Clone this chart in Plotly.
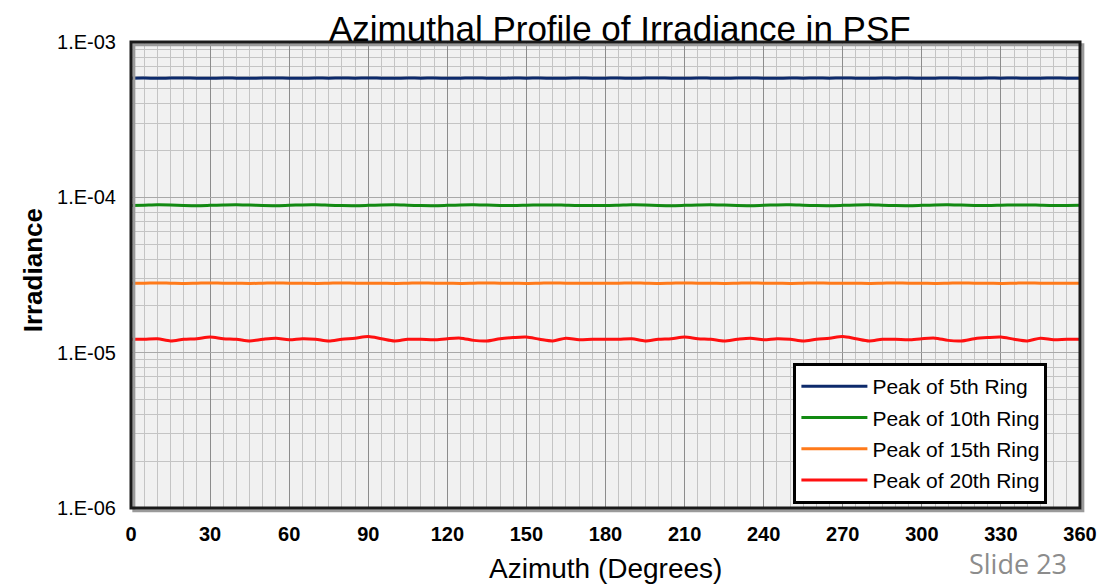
import plotly.graph_objects as go

# azimuth samples (degrees)
azimuth = list(range(0, 365, 5))

ring5 = [5.85e-4, 5.86e-4, 5.84e-4, 5.86e-4, 5.87e-4, 5.85e-4, 5.84e-4, 5.86e-4, 5.85e-4, 5.84e-4,
         5.86e-4, 5.87e-4, 5.85e-4, 5.84e-4, 5.86e-4, 5.85e-4, 5.86e-4, 5.85e-4, 5.87e-4, 5.85e-4,
         5.84e-4, 5.86e-4, 5.85e-4, 5.86e-4, 5.84e-4, 5.85e-4, 5.87e-4, 5.85e-4, 5.84e-4, 5.86e-4,
         5.85e-4, 5.86e-4, 5.84e-4, 5.85e-4, 5.86e-4, 5.85e-4, 5.85e-4, 5.86e-4, 5.84e-4, 5.86e-4,
         5.87e-4, 5.85e-4, 5.84e-4, 5.86e-4, 5.85e-4, 5.84e-4, 5.86e-4, 5.87e-4, 5.85e-4, 5.84e-4,
         5.86e-4, 5.85e-4, 5.86e-4, 5.85e-4, 5.87e-4, 5.85e-4, 5.84e-4, 5.86e-4, 5.85e-4, 5.86e-4,
         5.84e-4, 5.85e-4, 5.87e-4, 5.85e-4, 5.84e-4, 5.86e-4, 5.85e-4, 5.86e-4, 5.84e-4, 5.85e-4,
         5.86e-4, 5.85e-4, 5.85e-4]

ring10 = [8.86e-5, 8.90e-5, 8.95e-5, 8.93e-5, 8.87e-5, 8.84e-5, 8.88e-5, 8.93e-5, 8.96e-5, 8.91e-5,
          8.86e-5, 8.84e-5, 8.89e-5, 8.94e-5, 8.95e-5, 8.90e-5, 8.85e-5, 8.84e-5, 8.88e-5, 8.93e-5,
          8.95e-5, 8.90e-5, 8.85e-5, 8.83e-5, 8.88e-5, 8.94e-5, 8.96e-5, 8.91e-5, 8.86e-5, 8.85e-5,
          8.89e-5, 8.93e-5, 8.94e-5, 8.89e-5, 8.85e-5, 8.86e-5, 8.86e-5, 8.90e-5, 8.95e-5, 8.93e-5,
          8.87e-5, 8.84e-5, 8.88e-5, 8.93e-5, 8.96e-5, 8.91e-5, 8.86e-5, 8.84e-5, 8.89e-5, 8.94e-5,
          8.95e-5, 8.90e-5, 8.85e-5, 8.84e-5, 8.88e-5, 8.93e-5, 8.95e-5, 8.90e-5, 8.85e-5, 8.83e-5,
          8.88e-5, 8.94e-5, 8.96e-5, 8.91e-5, 8.86e-5, 8.85e-5, 8.89e-5, 8.93e-5, 8.94e-5, 8.89e-5,
          8.85e-5, 8.86e-5, 8.88e-5]

ring15 = [2.80e-5, 2.80e-5, 2.81e-5, 2.80e-5, 2.79e-5, 2.80e-5, 2.81e-5, 2.80e-5, 2.80e-5, 2.79e-5,
          2.80e-5, 2.81e-5, 2.80e-5, 2.80e-5, 2.79e-5, 2.80e-5, 2.81e-5, 2.80e-5, 2.80e-5, 2.80e-5,
          2.79e-5, 2.80e-5, 2.81e-5, 2.80e-5, 2.80e-5, 2.79e-5, 2.80e-5, 2.81e-5, 2.80e-5, 2.80e-5,
          2.79e-5, 2.80e-5, 2.81e-5, 2.80e-5, 2.80e-5, 2.80e-5, 2.80e-5, 2.80e-5, 2.81e-5, 2.80e-5,
          2.79e-5, 2.80e-5, 2.81e-5, 2.80e-5, 2.80e-5, 2.79e-5, 2.80e-5, 2.81e-5, 2.80e-5, 2.80e-5,
          2.79e-5, 2.80e-5, 2.81e-5, 2.80e-5, 2.80e-5, 2.80e-5, 2.79e-5, 2.80e-5, 2.81e-5, 2.80e-5,
          2.80e-5, 2.79e-5, 2.80e-5, 2.81e-5, 2.80e-5, 2.80e-5, 2.79e-5, 2.80e-5, 2.81e-5, 2.80e-5,
          2.80e-5, 2.80e-5, 2.80e-5]

ring20 = [1.22e-5, 1.22e-5, 1.23e-5, 1.19e-5, 1.22e-5, 1.23e-5, 1.26e-5, 1.23e-5, 1.22e-5, 1.19e-5,
          1.22e-5, 1.24e-5, 1.21e-5, 1.23e-5, 1.22e-5, 1.19e-5, 1.22e-5, 1.24e-5, 1.27e-5, 1.23e-5,
          1.19e-5, 1.22e-5, 1.22e-5, 1.21e-5, 1.23e-5, 1.24e-5, 1.20e-5, 1.19e-5, 1.23e-5, 1.25e-5,
          1.26e-5, 1.22e-5, 1.19e-5, 1.24e-5, 1.21e-5, 1.22e-5, 1.22e-5, 1.22e-5, 1.23e-5, 1.19e-5,
          1.22e-5, 1.23e-5, 1.26e-5, 1.23e-5, 1.22e-5, 1.19e-5, 1.22e-5, 1.24e-5, 1.21e-5, 1.23e-5,
          1.22e-5, 1.19e-5, 1.22e-5, 1.24e-5, 1.27e-5, 1.23e-5, 1.19e-5, 1.22e-5, 1.22e-5, 1.21e-5,
          1.23e-5, 1.24e-5, 1.20e-5, 1.19e-5, 1.23e-5, 1.25e-5, 1.26e-5, 1.22e-5, 1.19e-5, 1.24e-5,
          1.21e-5, 1.22e-5, 1.22e-5]

series_names = ["Peak of 5th Ring", "Peak of 10th Ring", "Peak of 15th Ring", "Peak of 20th Ring"]
series_colors = ["#0d2a6b", "#128a12", "#ff7a1a", "#ff1010"]

x_ticks = list(range(0, 361, 30))
x_minor = list(range(0, 361, 5))
y_ticks = [1e-6, 1e-5, 1e-4, 1e-3]
y_ticktext = ["1.E-06", "1.E-05", "1.E-04", "1.E-03"]
y_minor = [m * 10.0 ** e for e in (-6, -5, -4) for m in range(2, 10)]

FONT = "Liberation Sans, Arial, sans-serif"

fig = go.Figure()
for i, ys in enumerate([ring5, ring10, ring15, ring20]):
    fig.add_trace(go.Scatter(
        x=azimuth, y=ys, mode="lines", name=series_names[i],
        line=dict(color=series_colors[i], width=3, shape="spline", smoothing=0.8),
        legendgroup=str(i),
    ))

# plot frame with a little shadow
fig.add_shape(type="rect", xref="paper", yref="paper", x0=0.003, y0=-0.006, x1=1.003, y1=0.994,
              line=dict(color="#9a9a9a", width=3), layer="above")
fig.add_shape(type="rect", xref="paper", yref="paper", x0=0, y0=0, x1=1, y1=1,
              line=dict(color="#1a1a1a", width=3), layer="above")

# page has an 8px body margin, so the figure sits at (8, 8)
fig.add_annotation(text="Azimuthal Profile of Irradiance in PSF", xref="paper", yref="paper",
                   x=0.515, y=1.0, xanchor="center", yanchor="bottom", yshift=-8, showarrow=False,
                   font=dict(family=FONT, size=35, color="black"))
fig.add_annotation(text="<b>Irradiance</b>", xref="paper", yref="paper", x=0, xshift=-98, y=0.51,
                   xanchor="center", yanchor="middle",
                   textangle=-90, showarrow=False, font=dict(family=FONT, size=26, color="black"))
fig.add_annotation(text="Azimuth (Degrees)", xref="paper", yref="paper", x=0.5, y=0, yshift=-60,
                   xanchor="center", yanchor="middle", showarrow=False,
                   font=dict(family=FONT, size=28, color="black"))
fig.add_annotation(text="Slide 23", xref="paper", yref="paper", x=1.0, y=0, yshift=-55,
                   xanchor="center", yanchor="middle", xshift=-62, showarrow=False,
                   font=dict(family="Open Sans, Noto Sans, sans-serif", size=27, color="#8c8c8c"))

fig.update_xaxes(
    range=[0, 360], tickvals=x_ticks, showgrid=True, gridcolor="#8c8c8c", gridwidth=1,
    zeroline=False, showline=False, ticks="", ticklabelstandoff=12,
    tickfont=dict(family=FONT, size=20, color="black", weight="bold"),
    minor=dict(tickvals=x_minor, showgrid=True, gridcolor="#c4c4c4", gridwidth=1),
)
fig.update_yaxes(
    type="log", range=[-6, -3], tickvals=y_ticks, ticktext=y_ticktext,
    showgrid=True, gridcolor="#a8a8a8", gridwidth=1, zeroline=False, showline=False,
    ticks="", ticklabelstandoff=14, tickfont=dict(family=FONT, size=20, color="black"),
    minor=dict(tickvals=y_minor, showgrid=True, gridcolor="#c4c4c4", gridwidth=1),
)

fig.update_layout(
    width=1106, height=576,
    margin=dict(l=123, r=34, t=34, b=76),
    paper_bgcolor="white", plot_bgcolor="#f1f1f1",
    showlegend=True,
    legend=dict(
        x=0.698, y=0.311, xanchor="left", yanchor="top",
        bgcolor="white", bordercolor="black", borderwidth=3,
        font=dict(family=FONT, size=21, color="black"),
        tracegroupgap=1, itemwidth=66,
    ),
)

fig.write_html("out.html")
